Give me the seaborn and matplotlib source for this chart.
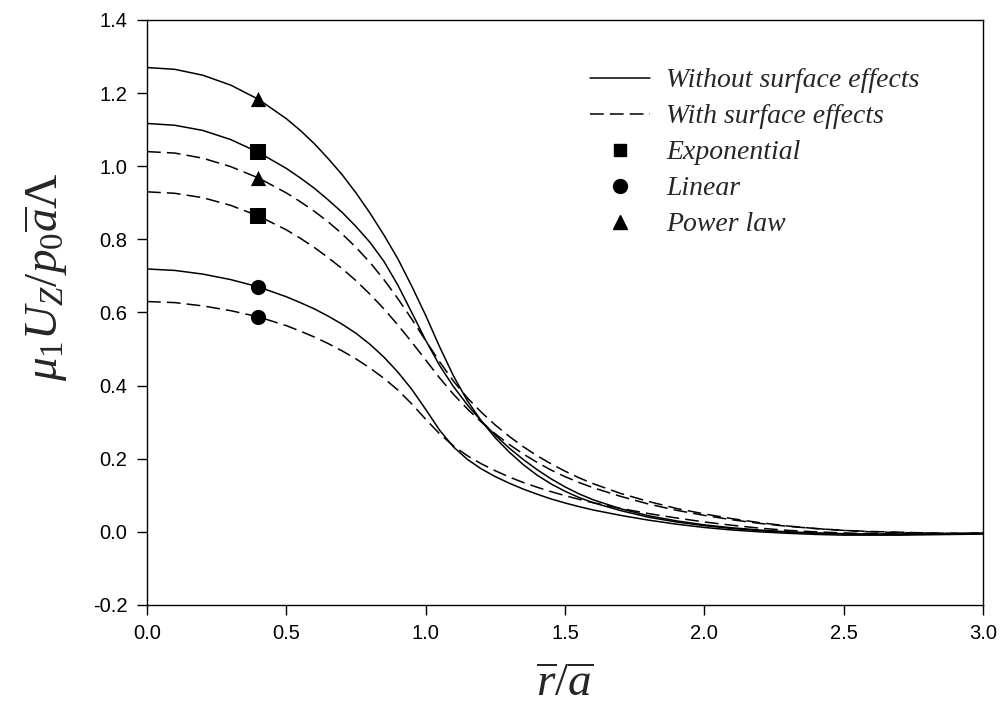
import numpy as np
import pandas as pd
import matplotlib
matplotlib.use("Agg")
import matplotlib.pyplot as plt
from matplotlib.lines import Line2D
import seaborn as sns

# Radial coordinate r/a
r_over_a = [0.0, 0.1, 0.2, 0.3, 0.4, 0.5, 0.55, 0.6, 0.65, 0.7, 0.75, 0.8, 0.85, 0.9, 0.95,
            1.0, 1.05, 1.1, 1.15, 1.2, 1.25, 1.3, 1.35, 1.4, 1.45, 1.5, 1.55, 1.6, 1.7,
            1.8, 1.9, 2.0, 2.1, 2.2, 2.3, 2.4, 2.5, 2.6, 2.7, 2.8, 2.9, 3.0]

# Normalised vertical displacement, without surface effects
power_bulk = [1.270, 1.265, 1.249, 1.222, 1.183, 1.130, 1.098, 1.062, 1.021, 0.977, 0.927,
              0.872, 0.812, 0.747, 0.672, 0.592, 0.506, 0.426, 0.358, 0.303, 0.257, 0.218,
              0.184, 0.155, 0.131, 0.111, 0.094, 0.080, 0.058, 0.040, 0.027, 0.017, 0.009,
              0.003, -0.001, -0.004, -0.006, -0.007, -0.007, -0.006, -0.005, -0.004]
expo_bulk = [1.117, 1.112, 1.098, 1.073, 1.038, 0.994, 0.968, 0.940, 0.908, 0.874, 0.835,
             0.792, 0.740, 0.675, 0.600, 0.524, 0.455, 0.397, 0.347, 0.303, 0.264, 0.229,
             0.198, 0.170, 0.145, 0.123, 0.104, 0.088, 0.063, 0.044, 0.030, 0.019, 0.011,
             0.005, 0.000, -0.003, -0.005, -0.006, -0.006, -0.006, -0.005, -0.004]
linear_bulk = [0.719, 0.715, 0.705, 0.690, 0.670, 0.643, 0.627, 0.610, 0.590, 0.568, 0.543,
               0.513, 0.478, 0.437, 0.390, 0.335, 0.278, 0.232, 0.198, 0.172, 0.151, 0.133,
               0.117, 0.103, 0.090, 0.079, 0.069, 0.060, 0.045, 0.032, 0.021, 0.012, 0.005,
               0.000, -0.004, -0.007, -0.009, -0.009, -0.009, -0.008, -0.007, -0.006]

# Normalised vertical displacement, with surface effects
power_surf = [1.040, 1.036, 1.022, 0.999, 0.968, 0.927, 0.903, 0.877, 0.848, 0.815, 0.778,
              0.737, 0.690, 0.638, 0.582, 0.523, 0.465, 0.412, 0.366, 0.327, 0.292, 0.261,
              0.233, 0.208, 0.186, 0.166, 0.148, 0.132, 0.105, 0.083, 0.064, 0.049, 0.036,
              0.025, 0.016, 0.009, 0.004, 0.000, -0.002, -0.003, -0.004, -0.004]
expo_surf = [0.930, 0.926, 0.914, 0.893, 0.864, 0.826, 0.803, 0.778, 0.750, 0.720, 0.687,
             0.650, 0.610, 0.566, 0.519, 0.470, 0.421, 0.376, 0.336, 0.300, 0.268, 0.239,
             0.213, 0.190, 0.169, 0.151, 0.135, 0.121, 0.097, 0.076, 0.059, 0.045, 0.033,
             0.023, 0.015, 0.009, 0.004, 0.001, -0.001, -0.003, -0.004, -0.004]
linear_surf = [0.630, 0.627, 0.618, 0.605, 0.588, 0.564, 0.549, 0.533, 0.515, 0.495, 0.473,
               0.448, 0.420, 0.388, 0.350, 0.308, 0.268, 0.235, 0.208, 0.186, 0.167, 0.150,
               0.135, 0.122, 0.110, 0.099, 0.089, 0.080, 0.064, 0.050, 0.038, 0.027, 0.018,
               0.010, 0.004, 0.000, -0.003, -0.005, -0.006, -0.006, -0.005, -0.005]

legend_labels = ["Without surface effects", "With surface effects",
                 "Exponential", "Linear", "Power law"]
marker_r = 0.4

curves = [
    ("Power law", "bulk", power_bulk, "^"),
    ("Exponential", "bulk", expo_bulk, "s"),
    ("Linear", "bulk", linear_bulk, "o"),
    ("Power law", "surface", power_surf, "^"),
    ("Exponential", "surface", expo_surf, "s"),
    ("Linear", "surface", linear_surf, "o"),
]

sns.set_theme(style="ticks")
plt.rcParams["font.family"] = ["Liberation Sans", "DejaVu Sans"]
plt.rcParams["mathtext.fontset"] = "custom"
plt.rcParams["mathtext.rm"] = "Liberation Serif"
plt.rcParams["mathtext.it"] = "Liberation Serif:italic"
plt.rcParams["mathtext.bf"] = "Liberation Serif:bold"

fig = plt.figure(figsize=(10.05, 7.14), dpi=100)
ax = fig.add_axes([0.1463, 0.1527, 0.8318, 0.8193])

dash_pattern = (9, 4)
idx = r_over_a.index(marker_r)
for model, case, values, mk in curves:
    df = pd.DataFrame({"r": r_over_a, "w": values})
    sns.lineplot(data=df, x="r", y="w", ax=ax, color="black", linewidth=1.1,
                 estimator=None, sort=False)
    if case == "surface":
        ax.lines[-1].set_dashes(dash_pattern)
    sns.scatterplot(x=[marker_r], y=[values[idx]], ax=ax, marker=mk, s=120,
                    color="black", edgecolor="black", linewidth=0, zorder=5)

ax.set_xlim(0, 3.0)
ax.set_ylim(-0.2, 1.4)
xt = np.arange(0, 3.01, 0.5)
yt = np.arange(-0.2, 1.41, 0.2)
ax.set_xticks(xt)
ax.set_yticks(yt)
ax.set_xticklabels([f"{v:.1f}" for v in xt])
ax.set_yticklabels([f"{v:.1f}" for v in yt])
ax.tick_params(direction="out", length=7, width=1, colors="black", labelsize=14.5, pad=7)
for s in ax.spines.values():
    s.set_visible(True)
    s.set_color("black")
    s.set_linewidth(1.0)

ax.set_xlabel(r"$\overline{r}/\overline{a}$", fontsize=34)
ax.set_ylabel(r"$\mu_{\mathit{1}}U_Z/p_{\mathit{0}}\overline{a}\Lambda$", fontsize=34)
ax.xaxis.set_label_coords(0.5, -0.099)
ax.yaxis.set_label_coords(-0.092, 0.562)

handles = [
    Line2D([0], [0], color="black", lw=1.1),
    Line2D([0], [0], color="black", lw=1.1, dashes=dash_pattern),
    Line2D([0], [0], color="black", lw=0, marker="s", markersize=9),
    Line2D([0], [0], color="black", lw=0, marker="o", markersize=10),
    Line2D([0], [0], color="black", lw=0, marker="^", markersize=10),
]
ax.legend(handles, legend_labels, loc="upper left",
          bbox_to_anchor=(590 / 1005, 1 - 68 / 714), bbox_transform=fig.transFigure,
          frameon=False, borderpad=0, borderaxespad=0, handlelength=2.15,
          handletextpad=0.6, labelspacing=0.38,
          prop={"family": "Liberation Serif", "style": "italic", "size": 20})

fig.savefig("out.png", dpi=100)
